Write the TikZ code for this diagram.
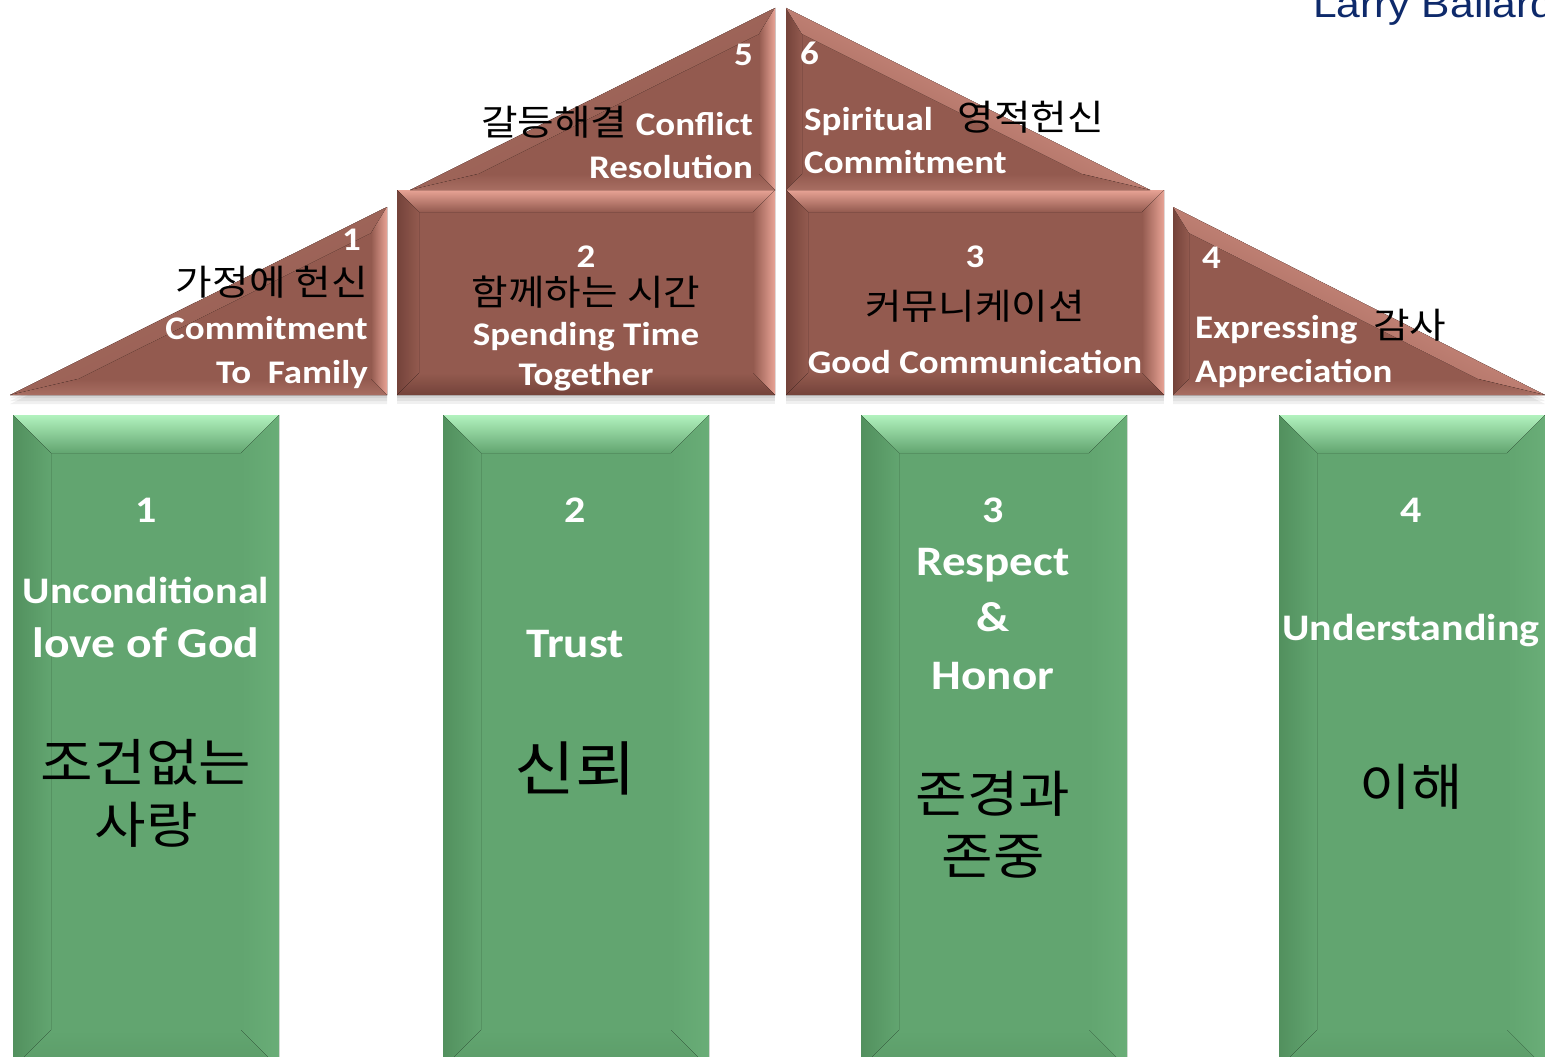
\documentclass[tikz,border=0pt]{standalone}
\usepackage{fontspec}
\setmainfont{Carlito}[FakeStretch=1.12]
\newfontfamily\kr{Noto Sans CJK KR}[FakeStretch=1.12]
\newfontfamily\arialf{Liberation Sans}[FakeStretch=1.12]
\newcommand\korb[1]{{\kr\mdseries\fontsize{35.5}{42}\selectfont\color{black}#1}}
\definecolor{brb}{HTML}{935A4F}
\definecolor{brl}{HTML}{E8A395}
\definecolor{brd}{HTML}{74433A}
\definecolor{brm}{HTML}{A86E62}
\definecolor{grb}{HTML}{62A570}
\definecolor{grl}{HTML}{B2F2BE}
\definecolor{grd}{HTML}{52905E}
\definecolor{grm}{HTML}{69AD77}
\definecolor{grk}{HTML}{5B9C68}
\definecolor{navy}{HTML}{0E2A6B}
% bevelled box: x1 y1 x2 y2 bevel
\newcommand\bevbox[5]{%
  \fill[\cbase] (#1,#2) rectangle (#3,#4);
  \fill[top color=\ctop,bottom color=\cbase] (#1,#2) -- (#3,#2) -- ({#3-#5},{#2+#5}) -- ({#1+#5},{#2+#5}) -- cycle;
  \fill[left color=\cleft,right color=\cbase] (#1,#2) -- ({#1+#5},{#2+#5}) -- ({#1+#5},{#4-#5}) -- (#1,#4) -- cycle;
  \fill[left color=\cbase,right color=\cright] (#3,#2) -- ({#3-#5},{#2+#5}) -- ({#3-#5},{#4-#5}) -- (#3,#4) -- cycle;
  \fill[top color=\cbase,bottom color=\cbot] (#1,#4) -- ({#1+#5},{#4-#5}) -- ({#3-#5},{#4-#5}) -- (#3,#4) -- cycle;
}
\tikzset{
  en/.style={font=\fontsize{33}{40}\selectfont\bfseries, text=white, inner sep=0pt},
  kor/.style={font=\kr\fontsize{35.5}{42}\selectfont, text=black, inner sep=0pt},
  pen/.style={font=\fontsize{37.5}{44}\selectfont\bfseries, text=white, inner sep=0pt},
  pbig/.style={font=\fontsize{42}{48}\selectfont\bfseries, text=white, inner sep=0pt},
  pkr/.style={font=\kr\fontsize{50}{56}\selectfont, text=black, inner sep=0pt},
  shadowfill/.style={fill=black, opacity=0.06},
}
\begin{document}
\begin{tikzpicture}[x=1pt,y=-1pt]
\useasboundingbox (0,0) rectangle (1545,1057);
\fill[white] (0,0) rectangle (1545,1057);

% ---------- shadows of roof ----------
\foreach \s in {3,6,9}{
  \fill[shadowfill, yshift=-\s pt] (10,395) -- (387,207) -- (387,395) -- cycle;
  \fill[shadowfill, yshift=-\s pt] (397,190) rectangle (775,395);
  \fill[shadowfill, yshift=-\s pt] (786,190) rectangle (1164,395);
  \fill[shadowfill, yshift=-\s pt] (1173,207) -- (1173,395) -- (1545,395) -- cycle;
  \fill[shadowfill, yshift=-\s pt] (410,190) -- (775,8) -- (775,190) -- cycle;
  \fill[shadowfill, yshift=-\s pt] (786,8) -- (786,190) -- (1150,190) -- cycle;
}

% ---------- pillars ----------
\def\cbase{grb}\def\ctop{grl}\def\cleft{grd}\def\cright{grm}\def\cbot{grk}
\bevbox{13}{415}{279}{1068}{38}
\bevbox{443}{415}{709}{1068}{38}
\bevbox{861}{415}{1127}{1068}{38}
\bevbox{1279}{415}{1545}{1068}{38}

% ---------- brown boxes ----------
\def\cbase{brb}\def\ctop{brl}\def\cleft{brd}\def\cright{brl}\def\cbot{brd}
\bevbox{397}{190}{775}{395}{22}
\bevbox{786}{190}{1164}{395}{22}

% ---------- triangle 1 ----------
\fill[brb] (10,395) -- (387,207) -- (387,395) -- cycle;
\fill[top color=brm,bottom color=brb,shading angle=27] (10,395) -- (387,207) -- (371,233) -- (78,379) -- cycle;
\fill[left color=brb,right color=brl] (387,207) -- (387,395) -- (371,379) -- (371,233) -- cycle;
\fill[top color=brb,bottom color=brm] (387,395) -- (10,395) -- (78,379) -- (371,379) -- cycle;

% ---------- triangle 5 ----------
\fill[brb] (410,190) -- (775,8) -- (775,190) -- cycle;
\fill[top color=brm,bottom color=brb,shading angle=27] (410,190) -- (775,8) -- (759,34) -- (478,174) -- cycle;
\fill[left color=brb,right color=brl] (775,8) -- (775,190) -- (759,174) -- (759,34) -- cycle;
\fill[top color=brb,bottom color=brm] (775,190) -- (410,190) -- (478,174) -- (759,174) -- cycle;

% ---------- triangle 6 ----------
\fill[brb] (786,8) -- (786,190) -- (1150,190) -- cycle;
\fill[left color=brd,right color=brb] (786,8) -- (802,34) -- (802,174) -- (786,190) -- cycle;
\fill[top color=brl,bottom color=brb,shading angle=-27] (786,8) -- (1150,190) -- (1082,174) -- (802,34) -- cycle;
\fill[top color=brb,bottom color=brm] (786,190) -- (802,174) -- (1082,174) -- (1150,190) -- cycle;

% ---------- triangle 4 ----------
\fill[brb] (1173,207) -- (1173,395) -- (1545,395) -- cycle;
\fill[left color=brd,right color=brb] (1173,207) -- (1189,233) -- (1189,379) -- (1173,395) -- cycle;
\fill[top color=brl,bottom color=brb,shading angle=-27] (1173,207) -- (1545,395) -- (1478,379) -- (1189,233) -- cycle;
\fill[top color=brb,bottom color=brm] (1173,395) -- (1189,379) -- (1478,379) -- (1545,395) -- cycle;

% ---------- roof texts ----------
\node[en, anchor=base east] (n1t) at (361,250) {1};
\node[kor, anchor=base east] (k1t) at (368,295) {가정에 헌신};
\node[en, anchor=base east] (e1a) at (368,339) {Commitment};
\node[en, anchor=base east] (e1b) at (368,383) {To\ \ Family};

\node[en, anchor=base east] (n5t) at (753,66) {5};
\node[en, anchor=base east] (e5a) at (753,135) {\korb{갈등해결} Conflict};
\node[en, anchor=base east] (e5b) at (753,178) {Resolution};

\node[en, anchor=base west] (n6t) at (800,65) {6};
\node[en, anchor=base west] (e6a) at (804,130) {Spiritual\hspace{25pt}\korb{영적헌신}};
\node[en, anchor=base west] (e6b) at (804,173) {Commitment};

\node[en, anchor=base west] (n4t) at (1202,268) {4};
\node[en, anchor=base west] (e4a) at (1195,338) {Expressing\hspace{16pt}\korb{감사}};
\node[en, anchor=base west] (e4b) at (1195,382) {Appreciation};

\node[en, anchor=base] (n2t) at (586,267) {2};
\node[kor, anchor=base] (k2t) at (586,305) {함께하는 시간};
\node[en, anchor=base] (e2a) at (586,345) {Spending Time};
\node[en, anchor=base] (e2b) at (586,385) {Together};

\node[en, anchor=base] (n3t) at (975,267) {3};
\node[kor, anchor=base] (k3t) at (975,319) {커뮤니케이션};
\node[en, anchor=base] (e3a) at (975,373) {Good Communication};

% ---------- pillar texts ----------
\node[pen, anchor=base] (p1n) at (146,522) {1};
\node[pen, anchor=base] (p1a) at (146,603) {Unconditional};
\node[pen, anchor=base, font=\fontsize{42.5}{48}\selectfont\bfseries] (p1b) at (146,657) {love of God};
\node[pkr, anchor=base, font=\kr\fontsize{51}{57}\selectfont] (p1c) at (146,781) {조건없는};
\node[pkr, anchor=base] (p1d) at (146,843) {사랑};

\node[pen, anchor=base] (p2n) at (575,522) {2};
\node[pbig, anchor=base] (p2a) at (575,657) {Trust};
\node[pkr, anchor=base, font=\kr\fontsize{59}{65}\selectfont] (p2b) at (575,790) {신뢰};

\node[pen, anchor=base] (p3n) at (993,522) {3};
\node[pbig, anchor=base] (p3a) at (993,575) {Respect};
\node[pbig, anchor=base] (p3b) at (993,631) {\&};
\node[pbig, anchor=base] (p3c) at (993,689) {Honor};
\node[pkr, anchor=base] (p3d) at (993,812) {존경과};
\node[pkr, anchor=base] (p3e) at (993,874) {존중};

\node[pen, anchor=base] (p4n) at (1411,522) {4};
\node[pen, anchor=base] (p4a) at (1411,640) {Understanding};
\node[pkr, anchor=base] (p4b) at (1411,805) {이해};

% ---------- author ----------
\node[anchor=base west, inner sep=0pt, font=\arialf\fontsize{38}{44}\selectfont, text=navy] (author) at (1313,18) {Larry Ballard};
\end{tikzpicture}
\end{document}
